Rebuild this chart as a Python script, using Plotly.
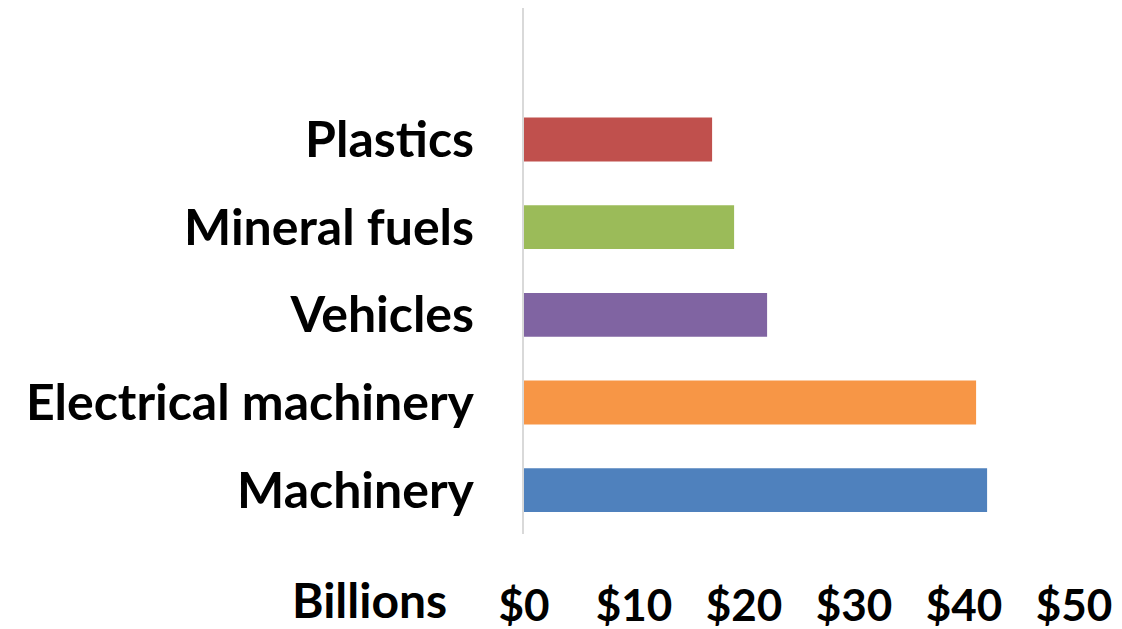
import plotly.graph_objects as go

categories = ["Machinery", "Electrical machinery", "Vehicles", "Mineral fuels", "Plastics"]
values = [42.1, 41.1, 22.1, 19.1, 17.1]
colors = ["#4F81BD", "#F79646", "#8064A2", "#9BBB59", "#C0504D"]
x_ticks = [0, 10, 20, 30, 40, 50]
x_tick_labels = ["$0", "$10", "$20", "$30", "$40", "$50"]

FONT = "Lato, 'Open Sans', sans-serif"

fig = go.Figure()
fig.add_trace(go.Bar(
    y=list(range(len(categories))),
    x=values,
    orientation="h",
    marker=dict(color=colors, line=dict(width=0)),
    width=0.5,
))

# page body has an 8px default margin, compensate in the figure margins
fig.update_layout(
    width=1122, height=629,
    margin=dict(l=516, r=56, t=0, b=103),
    paper_bgcolor="white", plot_bgcolor="white",
    showlegend=False,
    font=dict(family=FONT, color="black"),
)
fig.update_xaxes(
    range=[0, 50],
    tickvals=x_ticks, ticktext=x_tick_labels,
    showgrid=False, zeroline=False, showline=False,
    tickfont=dict(size=44, family=FONT, weight="bold"),
    ticklabelstandoff=42,
    fixedrange=True,
)
fig.update_yaxes(
    range=[-0.5, 5.5],
    tickvals=list(range(len(categories))), ticktext=categories,
    showgrid=False, zeroline=False,
    showline=True, linecolor="#d9d9d9", linewidth=2,
    tickfont=dict(size=50, family=FONT, weight="bold"),
    ticklabelstandoff=38,
    fixedrange=True,
)
fig.add_annotation(
    text="Billions", xref="paper", yref="paper",
    x=-0.4255, y=-0.125, xanchor="left", yanchor="middle",
    showarrow=False, font=dict(size=48, family=FONT, weight="bold", color="black"),
)
fig.write_html("out.html")
